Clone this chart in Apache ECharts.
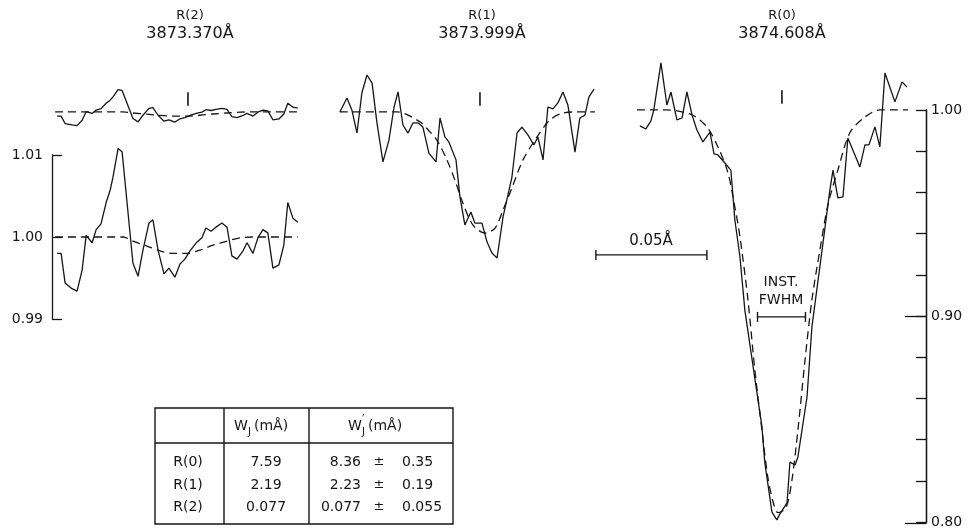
<!DOCTYPE html>
<html>
<head>
<meta charset="utf-8">
<title>CN R-branch profiles</title>
<script src="https://cdn.jsdelivr.net/npm/echarts@6/dist/echarts.min.js"></script>
<style>
  html, body { margin: 0; padding: 0; background: #fff; }
  #chart { width: 969px; height: 529px; }
</style>
</head>
<body>
<div id="chart"></div>
<script>
// wavelength offsets from line centre (mÅ) and residual intensity
const r2Offset = [-59.0, -57.2, -55.4, -52.3, -50.0, -47.7, -45.9, -43.2, -41.4, -39.2, -36.9, -35.1, -33.8, -31.5, -29.7, -24.8, -22.5, -20.3, -17.6, -15.8, -13.5, -10.8, -8.6, -5.9, -3.6, -1.4, 0.9, 4.1, 6.3, 8.1, 10.4, 12.6, 15.3, 17.6, 19.8, 22.1, 24.8, 26.6, 29.3, 31.5, 33.8, 36.0, 38.3, 41.0, 43.2, 45.0, 47.3, 49.5];
const r2Flux = [0.9980, 0.9980, 0.9944, 0.9937, 0.9934, 0.9960, 1.0002, 0.9993, 1.0009, 1.0016, 1.0042, 1.0057, 1.0073, 1.0108, 1.0104, 0.9968, 0.9952, 0.9984, 1.0017, 1.0021, 0.9984, 0.9955, 0.9962, 0.9951, 0.9967, 0.9973, 0.9983, 0.9994, 0.9999, 1.0011, 1.0007, 1.0012, 1.0017, 1.0012, 0.9977, 0.9973, 0.9983, 0.9993, 0.9980, 0.9999, 1.0009, 1.0005, 0.9962, 0.9966, 0.9990, 1.0042, 1.0023, 1.0018];
const r2FitOffset = [-59.9, -29.3, -24.8, -18.5, -12.6, -6.8, -0.5, 5.4, 11.3, 17.6, 23.4, 29.3, 49.5];
const r2FitFlux = [1.0, 1.0, 0.9995, 0.9989, 0.9983, 0.9980, 0.9980, 0.9984, 0.9990, 0.9995, 0.9999, 1.0, 1.0];

const r1Offset = [-63.1, -59.9, -57.7, -55.4, -53.2, -50.9, -48.6, -46.4, -43.7, -41.0, -38.7, -36.9, -34.7, -32.4, -30.2, -27.9, -25.7, -23.0, -19.8, -18.0, -15.8, -14.0, -10.8, -9.0, -6.8, -4.1, -2.3, 0.9, 3.2, 5.4, 7.7, 10.4, 14.4, 16.7, 18.9, 21.6, 24.3, 26.1, 28.4, 30.6, 32.9, 35.1, 37.4, 39.6, 42.8, 45.0, 47.3, 49.1, 51.4];
const r1Flux = [1.0000, 1.0068, 1.0010, 0.9898, 1.0092, 1.0179, 1.0140, 0.9947, 0.9758, 0.9864, 1.0024, 1.0097, 0.9937, 0.9898, 0.9947, 0.9947, 0.9927, 0.9801, 0.9758, 0.9971, 0.9879, 0.9855, 0.9768, 0.9588, 0.9453, 0.9516, 0.9462, 0.9462, 0.9370, 0.9317, 0.9293, 0.9492, 0.9685, 0.9898, 0.9927, 0.9889, 0.9840, 0.9879, 0.9768, 1.0024, 1.0015, 1.0044, 1.0097, 1.0034, 0.9806, 0.9971, 0.9985, 1.0073, 1.0111];
const r1FitOffset = [-63.1, -37.4, -27.0, -22.5, -19.4, -14.9, -11.3, -7.7, -3.2, 2.3, 6.8, 10.4, 14.4, 19.4, 25.7, 31.5, 37.4, 43.7, 51.8];
const r1FitFlux = [1.0, 1.0, 0.9952, 0.9903, 0.9864, 0.9768, 0.9671, 0.9559, 0.9453, 0.9414, 0.9438, 0.9525, 0.9632, 0.9768, 0.9879, 0.9961, 0.9995, 1.0, 1.0];

const r0Offset = [-64.0, -61.3, -59.0, -57.7, -54.5, -51.8, -50.0, -47.3, -45.0, -42.8, -40.5, -38.3, -35.6, -32.4, -30.6, -28.8, -25.7, -23.0, -21.2, -18.9, -16.7, -9.0, -7.7, -4.5, -2.3, -0.9, 2.3, 3.6, 5.9, 7.2, 11.3, 13.5, 18.5, 21.6, 23.0, 25.2, 27.5, 29.7, 35.1, 37.4, 39.2, 41.9, 44.1, 46.4, 50.9, 54.1, 56.3];
const r0Flux = [0.9923, 0.9908, 0.9947, 1.0000, 1.0228, 1.0024, 1.0087, 0.9952, 0.9961, 1.0087, 0.9976, 0.9903, 0.9845, 0.9893, 0.9787, 0.9782, 0.9743, 0.9709, 0.9467, 0.9288, 0.9031, 0.8465, 0.8291, 0.8053, 0.8015, 0.8044, 0.8097, 0.8295, 0.8281, 0.8320, 0.8610, 0.8949, 0.9356, 0.9613, 0.9709, 0.9574, 0.9579, 0.9864, 0.9724, 0.9831, 0.9831, 0.9918, 0.9821, 1.0179, 1.0039, 1.0136, 1.0111];
const r0FitOffset = [-65.3, -52.0, -40.5, -33.8, -28.8, -24.3, -21.2, -18.9, -15.3, -12.2, -9.0, -6.3, -3.6, -1.8, 1.8, 4.5, 7.2, 10.4, 13.5, 17.1, 20.7, 25.2, 30.6, 37.4, 44.1, 56.8];
const r0FitFlux = [1.0, 1.0, 0.9976, 0.9918, 0.9821, 0.9695, 0.9530, 0.9385, 0.9080, 0.8741, 0.8450, 0.8218, 0.8087, 0.8050, 0.8073, 0.8208, 0.8450, 0.8789, 0.9080, 0.9322, 0.9540, 0.9709, 0.9890, 0.9966, 1.0, 1.0];

const centreMark = [1.003, 1.0095];   // short tick above each line centre
const scaleBarLength = 50;            // mÅ (0.05 Å)
const instFwhm = 21.6;                // mÅ

const lines = ['R(2)', 'R(1)', 'R(0)'];
const wavelengths = ['3873.370Å', '3873.999Å', '3874.608Å'];

const tableRows = ['R(0)', 'R(1)', 'R(2)'];
const wj = ['7.59', '2.19', '0.077'];
const wjPrime = ['8.36', '2.23', '0.077'];
const wjPrimeErr = ['0.35', '0.19', '0.055'];

const FONT = '"DejaVu Sans", sans-serif';
const INK = '#151515';

function pairs(xs, ys) {
  return xs.map((x, i) => [x, ys[i]]);
}

function trace(grid, data, dashed, extra) {
  return Object.assign({
    type: 'line',
    xAxisIndex: grid,
    yAxisIndex: grid,
    data: data,
    symbol: 'none',
    silent: true,
    animation: false,
    lineStyle: { color: INK, width: 1.3, type: dashed ? [8, 5] : 'solid' }
  }, extra || {});
}

function bar(grid, x0, len, level) {
  return trace(grid, [[x0, level], [x0 + len, level]], false, {
    symbol: 'rect',
    symbolSize: [1.4, 10],
    showSymbol: true,
    itemStyle: { color: INK }
  });
}

function txt(text, x, y, size, align) {
  return {
    type: 'text', x: x, y: y, silent: true,
    style: { text: text, font: size + 'px ' + FONT, fill: INK, align: align || 'center', verticalAlign: 'middle' }
  };
}

const grids = [
  { left: 52, top: 50, width: 248, height: 103.25 },   // R(2), common scale
  { left: 52, top: 155, width: 248, height: 164 },     // R(2), magnified
  { left: 339, top: 50, width: 256.4, height: 227.2 }, // R(1)
  { left: 591, top: 48, width: 319.7, height: 475 },   // R(0)
  { left: 916, top: 110, width: 10, height: 413 },     // intensity scale
  { left: 916, top: 110, width: 10, height: 413 }
];
const xRanges = [[-61.3, 50.5], [-61.3, 50.5], [-63.5, 52], [-86, 58], [0, 1], [0, 1]];

const labelStyle = { color: INK, fontSize: 14, fontFamily: FONT };
const tenths = v => (Math.abs(v * 10 - Math.round(v * 10)) < 1e-6 ? v.toFixed(2) : '');
const axisInk = { show: true, onZero: false, lineStyle: { color: INK, width: 1.3 } };

const yAxes = [
  { gridIndex: 0, type: 'value', min: 0.98, max: 1.03, show: false },
  {
    gridIndex: 1, type: 'value', min: 0.99, max: 1.01, interval: 0.01, position: 'left',
    axisLine: axisInk,
    axisTick: { show: true, inside: true, length: 10, lineStyle: { color: INK, width: 1.3 } },
    axisLabel: Object.assign({ margin: 9, formatter: v => v.toFixed(2) }, labelStyle),
    splitLine: { show: false }
  },
  { gridIndex: 2, type: 'value', min: 0.92, max: 1.03, show: false },
  { gridIndex: 3, type: 'value', min: 0.80, max: 1.03, show: false },
  {
    gridIndex: 4, type: 'value', min: 0.8, max: 1.0, interval: 0.02, position: 'right',
    axisLine: axisInk,
    axisTick: { show: true, inside: true, length: 10, lineStyle: { color: INK, width: 1.3 } },
    axisLabel: Object.assign({ margin: 5, formatter: tenths, showMinLabel: true, showMaxLabel: true }, labelStyle),
    splitLine: { show: false }
  },
  {
    gridIndex: 5, type: 'value', min: 0.8, max: 1.0, interval: 0.1, position: 'right',
    axisLine: axisInk,
    axisTick: { show: true, inside: true, length: 21, customValues: [0.8, 0.9], lineStyle: { color: INK, width: 1.3 } },
    axisLabel: { show: false },
    splitLine: { show: false }
  }
];

const series = [
  trace(0, pairs(r2Offset, r2Flux), false),
  trace(0, pairs(r2FitOffset, r2FitFlux), true, { smooth: 0.3 }),
  trace(0, [[0, centreMark[0]], [0, centreMark[1]]], false, { lineStyle: { color: INK, width: 1.6 } }),
  trace(1, pairs(r2Offset, r2Flux), false, { clip: false }),
  trace(1, pairs(r2FitOffset, r2FitFlux), true, { smooth: 0.3 }),
  trace(2, pairs(r1Offset, r1Flux), false),
  trace(2, pairs(r1FitOffset, r1FitFlux), true, { smooth: 0.3 }),
  trace(2, [[0, centreMark[0]], [0, centreMark[1]]], false, { lineStyle: { color: INK, width: 1.6 } }),
  trace(3, pairs(r0Offset, r0Flux), false),
  trace(3, pairs(r0FitOffset, r0FitFlux), true, { smooth: 0.3 }),
  trace(3, [[0, centreMark[0]], [0, centreMark[1]]], false, { lineStyle: { color: INK, width: 1.6 } }),
  bar(3, -83.8, scaleBarLength, 0.9298),
  bar(3, -11.0, instFwhm, 0.8998)
];

// titles, annotations and the equivalent-width table
const titleX = [190, 482, 782];
const graphics = [];
lines.forEach((name, i) => {
  graphics.push(txt(name, titleX[i], 16, 13));
  graphics.push(txt(wavelengths[i], titleX[i], 34, 16));
});
graphics.push(txt('0.05Å', 651, 241, 15));
graphics.push(txt('INST.', 781, 282, 14));
graphics.push(txt('FWHM', 781, 300, 14));

const box = { x: 155, y: 408, w: 298, h: 116 };
const stroke = { stroke: INK, lineWidth: 1.4, fill: 'none' };
graphics.push({ type: 'rect', silent: true, shape: { x: box.x, y: box.y, width: box.w, height: box.h }, style: stroke });
graphics.push({ type: 'line', silent: true, shape: { x1: box.x, y1: 443, x2: box.x + box.w, y2: 443 }, style: stroke });
graphics.push({ type: 'line', silent: true, shape: { x1: 224, y1: box.y, x2: 224, y2: box.y + box.h }, style: stroke });
graphics.push({ type: 'line', silent: true, shape: { x1: 309, y1: box.y, x2: 309, y2: box.y + box.h }, style: stroke });

// column headers W_J(mÅ) and W'_J(mÅ)
graphics.push(txt('W', 234, 426, 14, 'left'));
graphics.push(txt('J', 248, 432, 10, 'left'));
graphics.push(txt('(mÅ)', 254, 426, 14, 'left'));
graphics.push(txt('W', 348, 426, 14, 'left'));
graphics.push(txt('′', 362, 420, 12, 'left'));
graphics.push(txt('J', 362, 432, 10, 'left'));
graphics.push(txt('(mÅ)', 368, 426, 14, 'left'));

const rowY = [462, 485, 507];
tableRows.forEach((r, i) => {
  graphics.push(txt(r, 188, rowY[i], 14));
  graphics.push(txt(wj[i], 266, rowY[i], 14));
  graphics.push(txt(wjPrime[i], 361, rowY[i], 14, 'right'));
  graphics.push(txt('±', 379, rowY[i], 13));
  graphics.push(txt(wjPrimeErr[i], 402, rowY[i], 14, 'left'));
});

const chart = echarts.init(document.getElementById('chart'), null, { renderer: 'canvas' });
chart.setOption({
  backgroundColor: '#ffffff',
  animation: false,
  grid: grids,
  xAxis: xRanges.map((r, i) => ({ gridIndex: i, type: 'value', min: r[0], max: r[1], show: false })),
  yAxis: yAxes,
  series: series,
  graphic: graphics
});

window.addEventListener('resize', () => {
  chart.resize();
});
</script>
</body>
</html>
